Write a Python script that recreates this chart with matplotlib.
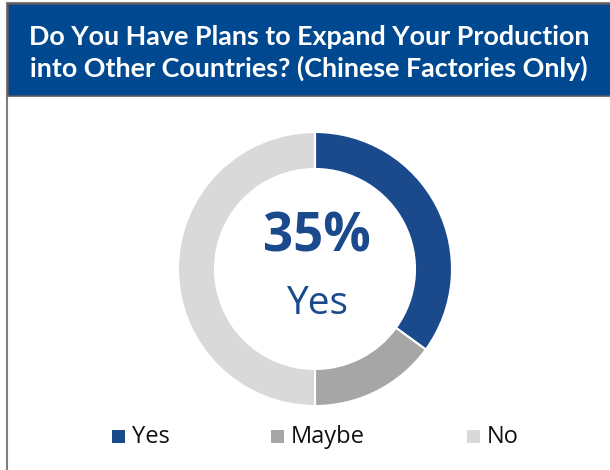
import matplotlib.pyplot as plt
from matplotlib.patches import Rectangle

plt.rcParams['font.family'] = ['Open Sans', 'DejaVu Sans']

title = 'Do You Have Plans to Expand Your Production\ninto Other Countries? (Chinese Factories Only)'
labels = ['Yes', 'Maybe', 'No']
shares = [35, 15, 50]
colors = ['#1B4A8C', '#A6A6A6', '#D9D9D9']

W, H = 610, 470
fig = plt.figure(figsize=(W / 100, H / 100), dpi=100)
fig.patch.set_facecolor('white')

# background axes in pixel coords (frame, banner, texts)
bg = fig.add_axes([0, 0, 1, 1])
bg.set_xlim(0, W)
bg.set_ylim(H, 0)
bg.axis('off')
bg.add_patch(Rectangle((7, 3), W, H, facecolor='white', edgecolor='#7F7F7F', lw=1.5))
bg.add_patch(Rectangle((8, 4), W, 92, facecolor='#004990', edgecolor='#5A5A5A', lw=1.2))
bg.text(309, 53, title, color='white', fontsize=19.4, fontweight='bold',
        family=['Lato', 'DejaVu Sans'], ha='center', va='center', linespacing=1.35)

# donut
cx, cy, r = 315, 269, 137
ax = fig.add_axes([(cx - r) / W, 1 - (cy + r) / H, 2 * r / W, 2 * r / H])
ax.pie(shares, colors=colors, startangle=90, counterclock=False,
       wedgeprops=dict(width=0.27, edgecolor='white', linewidth=1.5))
ax.set_xlim(-1, 1)
ax.set_ylim(-1, 1)
ax.set_aspect('equal')
ax.axis('off')

bg.text(cx + 2, 237, f'{shares[0]}%', ha='center', va='center', fontsize=38,
        fontweight='bold', color='#1B4A8C')
bg.text(cx + 2, 304, labels[0], ha='center', va='center', fontsize=28, color='#1B4A8C')

# legend
leg_x = [118, 277, 473]
for x, lab, c in zip(leg_x, labels, colors):
    bg.add_patch(Rectangle((x - 6, 430), 13, 13, facecolor=c, edgecolor='none'))
    bg.text(x + 14, 437, lab, fontsize=17, va='center', ha='left', color='#111111')

fig.savefig('out.png', dpi=100)
